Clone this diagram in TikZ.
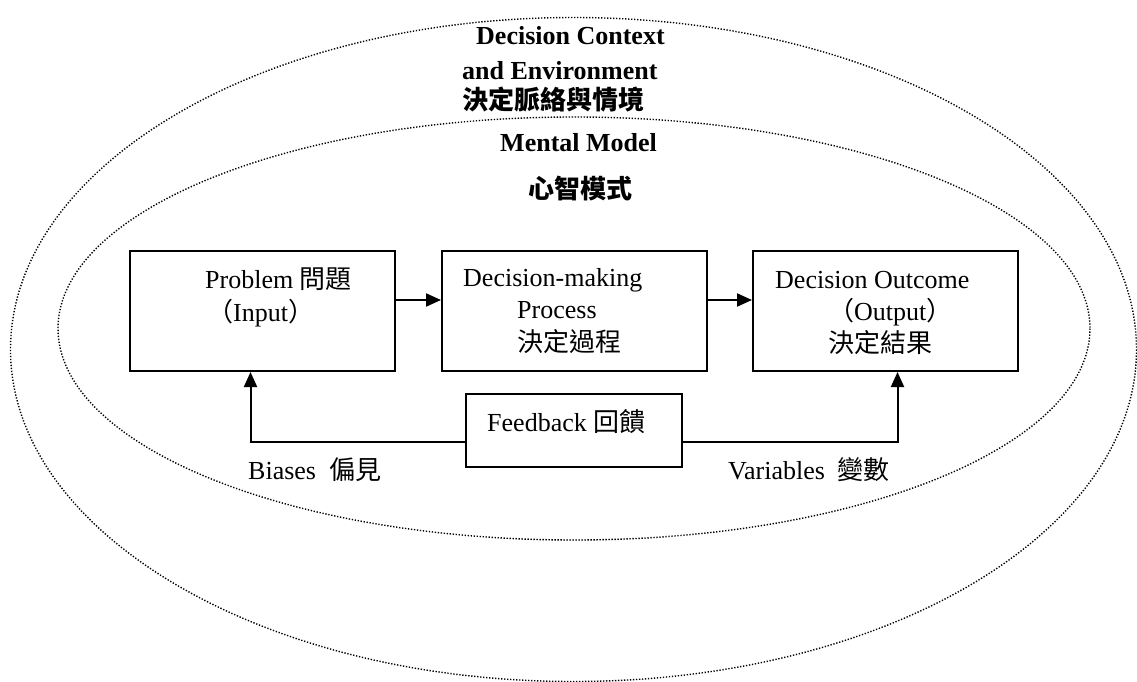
\documentclass[tikz,border=0pt]{standalone}
\usepackage{fontspec}
\setmainfont{Liberation Serif}
\newfontfamily\cjk{Noto Sans CJK TC}
\usetikzlibrary{arrows.meta}
\begin{document}
\begin{tikzpicture}[x=1pt,y=-1pt,
  ring/.style={draw=black, line width=1.4pt, dash pattern=on 1.3pt off 1.7pt},
  blk/.style={draw, line width=2pt, minimum width=265pt, minimum height=120pt, inner sep=0pt},
  fbk/.style={draw, line width=2pt, minimum width=216pt, minimum height=73pt, inner sep=0pt},
  arr/.style={line width=2pt, -{Triangle[length=15pt,width=13pt]}},
  txt/.style={inner sep=0pt, anchor=west, font=\fontsize{26}{30}\selectfont},
  head/.style={txt, font=\fontsize{26}{30}\selectfont\bfseries}]
\useasboundingbox (0,0) rectangle (1137,682);

% context and mental-model rings
\draw[ring] (573.5,349.5) ellipse [x radius=563, y radius=332];
\draw[ring] (574,328.5) ellipse [x radius=516, y radius=211.5];

% headings
\node[head] (ctx1) at (476,36) {Decision Context};
\node[head] (ctx2) at (462,71) {and Environment};
\node[head] (ctx3) at (462,100) {\cjk 決定脈絡與情境};
\node[head] (mm1) at (500,143) {Mental Model};
\node[head] (mm2) at (528,189) {\cjk 心智模式};

% process boxes
\node[blk] (prob) at (262.5,311) {};
\node[blk] (proc) at (574.5,311) {};
\node[blk] (outc) at (885.5,311) {};
\node[fbk] (fb) at (574,430.5) {};

\node[txt] (t1a) at (205,279) {Problem {\cjk 問題}};
\node[txt] (t1b) at (207,313) {{\cjk （}Input{\cjk ）}};
\node[txt] (t2a) at (463,280) {Decision-making};
\node[txt] (t2b) at (517,310) {Process};
\node[txt] (t2c) at (517,342) {\cjk 決定過程};
\node[txt] (t3a) at (775,280) {Decision Outcome};
\node[txt] (t3b) at (828,312) {{\cjk （}Output{\cjk ）}};
\node[txt] (t3c) at (828,343) {\cjk 決定結果};
\node[txt] (t4) at (487,422) {Feedback {\cjk 回饋}};
\node[txt] (lb) at (248,470) {Biases\ \ {\cjk 偏見}};
\node[txt] (lv) at (728,470) {Variables\ \ {\cjk 變數}};

% flow
\draw[arr] ([yshift=11pt]prob.east) -- ([yshift=11pt]proc.west);
\draw[arr] ([yshift=11pt]proc.east) -- ([yshift=11pt]outc.west);
\draw[arr] ([yshift=-11.5pt]fb.west) -| ([xshift=-12pt]prob.south);
\draw[arr] ([yshift=-11.5pt]fb.east) -| ([xshift=12pt]outc.south);
\end{tikzpicture}
\end{document}
